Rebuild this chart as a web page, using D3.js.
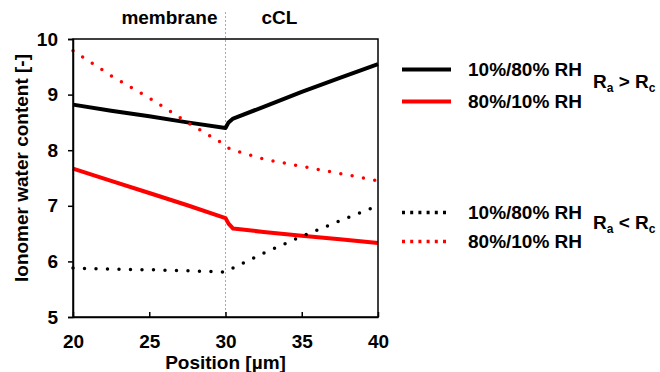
<!DOCTYPE html>
<html>
<head>
<meta charset="utf-8">
<script src="https://cdn.jsdelivr.net/npm/d3@7"></script>
<style>
  body { margin: 0; background: #fff; }
  svg { font-family: "Liberation Sans", Arial, sans-serif; font-weight: bold; }
</style>
</head>
<body>
<svg id="chart" width="660" height="372"></svg>
<script>
// position through membrane (20-30) and cathode catalyst layer (30-40), in um
const positions = [20, 22.5, 25, 27.5, 30, 30.2, 30.5, 32.5, 35, 37.5, 40];

// ionomer water content, Ra > Rc (solid lines)
const dryWetHigh = [8.82, 8.71, 8.61, 8.50, 8.40, 8.50, 8.57, 8.78, 9.05, 9.30, 9.55];
const wetDryHigh = [7.67, 7.45, 7.23, 7.01, 6.78, 6.68, 6.59, 6.53, 6.46, 6.40, 6.33];
// Ra < Rc (dotted lines)
const dryWetLow = [5.88, 5.86, 5.85, 5.83, 5.81, 5.84, 5.88, 6.15, 6.45, 6.73, 7.00];
const wetDryLow = [9.79, 9.34, 8.94, 8.50, 8.09, 8.04, 8.00, 7.84, 7.71, 7.58, 7.45];

const xTicks = [20, 25, 30, 35, 40];
const yTicks = [5, 6, 7, 8, 9, 10];

const series = [
  { name: "10%/80% RH", values: dryWetHigh, color: "#000", dotted: false },
  { name: "80%/10% RH", values: wetDryHigh, color: "#ff0000", dotted: false },
  { name: "10%/80% RH", values: dryWetLow, color: "#000", dotted: true },
  { name: "80%/10% RH", values: wetDryLow, color: "#ff0000", dotted: true }
];

const fs = 19;
const margin = { top: 39, left: 73 };
const width = 378 - 73;
const height = 317 - 39;

const svg = d3.select("#chart");
const g = svg.append("g")
  .attr("transform", "translate(" + margin.left + "," + margin.top + ")");

const x = d3.scaleLinear().domain([20, 40]).range([0, width]);
const y = d3.scaleLinear().domain([5, 10]).range([height, 0]);

// membrane / cCL divider
g.append("line")
  .attr("x1", x(30)).attr("x2", x(30))
  .attr("y1", -27).attr("y2", height)
  .attr("stroke", "#aaa")
  .attr("stroke-width", 1)
  .attr("stroke-dasharray", "2,2");

g.append("text")
  .attr("x", x(30) - 8).attr("y", -15)
  .attr("text-anchor", "end")
  .attr("font-size", fs)
  .text("membrane");
g.append("text")
  .attr("x", x(30) + 36).attr("y", -15)
  .attr("font-size", fs)
  .text("cCL");

// lines
const line = d3.line()
  .x((d, i) => x(positions[i]))
  .y(d => y(d));

series.forEach(s => {
  const p = g.append("path")
    .datum(s.values)
    .attr("fill", "none")
    .attr("stroke", s.color)
    .attr("d", line);
  if (s.dotted) {
    p.attr("stroke-width", 3.5)
      .attr("stroke-linecap", "round")
      .attr("stroke-dasharray", "0,11.5");
  } else {
    p.attr("stroke-width", 4)
      .attr("stroke-linejoin", "round");
  }
});

// frame
g.append("rect")
  .attr("width", width).attr("height", height)
  .attr("fill", "none")
  .attr("stroke", "#000")
  .attr("stroke-width", 1.5);

// axes
const xAxis = g.append("g")
  .attr("transform", "translate(0," + height + ")")
  .call(d3.axisBottom(x).tickValues(xTicks).tickSizeInner(-5).tickSizeOuter(0).tickPadding(18));
const yAxis = g.append("g")
  .call(d3.axisLeft(y).tickValues(yTicks).tickFormat(d3.format("d")).tickSize(5).tickPadding(10));

[xAxis, yAxis].forEach(a => {
  a.select(".domain").attr("stroke", "#000").attr("stroke-width", 1.5);
  a.selectAll(".tick line").attr("stroke", "#000").attr("stroke-width", 1.5);
  a.selectAll(".tick text")
    .attr("font-family", "Liberation Sans, Arial, sans-serif")
    .attr("font-weight", "bold")
    .attr("font-size", fs)
    .attr("fill", "#000");
});

// axis titles
svg.append("text")
  .attr("x", margin.left + width / 2).attr("y", 369)
  .attr("text-anchor", "middle")
  .attr("font-size", fs)
  .text("Position [\u00b5m]");
svg.append("text")
  .attr("transform", "translate(28,168) rotate(-90)")
  .attr("text-anchor", "middle")
  .attr("font-size", fs)
  .text("Ionomer water content [-]");

// legend
const legendY = [69.5, 101.5, 212.5, 241.5];
const legend = svg.append("g");
series.forEach((s, i) => {
  const l = legend.append("line")
    .attr("x1", 402).attr("x2", 451)
    .attr("y1", legendY[i]).attr("y2", legendY[i])
    .attr("stroke", s.color);
  if (s.dotted) {
    l.attr("stroke-width", 3.5).attr("stroke-dasharray", "3,5.2");
  } else {
    l.attr("stroke-width", 4);
  }
  legend.append("text")
    .attr("x", 468).attr("y", legendY[i])
    .attr("dy", "0.36em")
    .attr("font-size", fs)
    .text(s.name);
});

function ratioLabel(yPos, sign) {
  const t = svg.append("text").attr("x", 593).attr("y", yPos).attr("font-size", fs);
  t.append("tspan").text("R");
  t.append("tspan").attr("font-size", 12).attr("dy", 4).text("a");
  t.append("tspan").attr("dy", -4).text(" " + sign + " R");
  t.append("tspan").attr("font-size", 12).attr("dy", 4).text("c");
}
ratioLabel(88, ">");
ratioLabel(229, "<");
</script>
</body>
</html>
